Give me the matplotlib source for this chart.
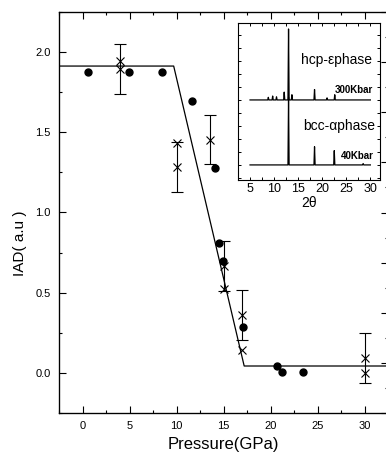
import matplotlib
matplotlib.use("Agg")
import matplotlib.pyplot as plt
from matplotlib.ticker import MultipleLocator, FormatStrFormatter

plt.rcParams['font.family'] = ['Liberation Sans', 'DejaVu Sans']

# IAD vs pressure: filled circles
dot_p = [0.6, 4.9, 8.5, 11.7, 14.1, 14.5, 14.9, 17.1, 20.7, 21.2, 23.5]
dot_iad = [1.876, 1.876, 1.876, 1.696, 1.28, 0.81, 0.70, 0.285, 0.043, 0.005, 0.005]

# crosses with error bars
err_p = [4.0, 10.1, 13.6, 15.0, 17.0, 30.0]
err_iad = [1.895, 1.285, 1.455, 0.665, 0.36, 0.095]
err_half = [0.155, 0.155, 0.155, 0.155, 0.155, 0.155]

# extra crosses without error bars
cross_p = [4.0, 10.1, 15.0, 17.0, 30.0]
cross_iad = [1.945, 1.435, 0.52, 0.143, 0.0]

# piecewise fit
fit_p = [-2.5, 9.7, 17.2, 32.5]
fit_iad = [1.913, 1.913, 0.043, 0.043]

# inset XRD patterns (peak position, height)
bcc_peaks = [13.0, 18.4, 22.5, 28.5]
bcc_heights = [2.6, 0.7, 0.55, 0.05]
hcp_peaks = [8.8, 9.7, 10.5, 12.1, 13.0, 13.7, 18.4, 21.0, 22.6]
hcp_heights = [0.1, 0.15, 0.12, 0.3, 2.73, 0.2, 0.4, 0.08, 0.2]
hcp_offset = 2.5


def stick_pattern(peaks, heights, base, start=5.0, end=30.0, w=0.12):
    xs, ys = [start], [base]
    for p, h in zip(peaks, heights):
        xs += [p - w, p, p + w]
        ys += [base, base + h, base]
    xs.append(end)
    ys.append(base)
    return xs, ys


fig = plt.figure(figsize=(3.86, 4.57), dpi=100)
ax = fig.add_axes([59 / 386, 44 / 457, 329 / 386, 401 / 457])

ax.plot(fit_p, fit_iad, color='black', lw=0.9)
ax.errorbar(err_p, err_iad, yerr=err_half, fmt='x', color='black', ms=6, mew=0.8,
            capsize=4.5, elinewidth=0.8, capthick=0.8)
ax.plot(cross_p, cross_iad, 'x', color='black', ms=6, mew=0.8)
ax.plot(dot_p, dot_iad, 'o', color='black', ms=5)

ax.set_xlim(-2.5, 32.5)
ax.set_ylim(-0.25, 2.25)
ax.xaxis.set_major_locator(MultipleLocator(5))
ax.xaxis.set_minor_locator(MultipleLocator(2.5))
ax.yaxis.set_major_locator(MultipleLocator(0.5))
ax.yaxis.set_minor_locator(MultipleLocator(0.25))
ax.yaxis.set_major_formatter(FormatStrFormatter('%.1f'))
ax.tick_params(which='both', direction='in', top=True, right=False, labelsize=8, width=0.8)
ax.tick_params(which='major', length=5, pad=6)
ax.tick_params(which='minor', length=2.5)
for s in ax.spines.values():
    s.set_linewidth(0.9)

ax.set_xlabel('Pressure(GPa)', fontsize=12, labelpad=4)
fig.text(20 / 386, 1 - 243 / 457, 'IAD( a.u )', rotation=90, ha='center', va='center', fontsize=11)

# right axis ticks (scale of the cropped right axis)
ax2 = ax.twinx()
ax2.set_ylim(0, 8)
ax2.yaxis.set_major_locator(MultipleLocator(1))
ax2.yaxis.set_minor_locator(MultipleLocator(0.5))
ax2.tick_params(which='both', direction='in', labelright=False, width=0.8)
ax2.tick_params(which='major', length=5)
ax2.tick_params(which='minor', length=2.5)

# inset
ins = fig.add_axes([238 / 386, (457 - 180) / 457, 142 / 386, 157 / 457])
ins.set_zorder(5)
bx, by = stick_pattern(bcc_peaks, bcc_heights, 0.0)
hx, hy = stick_pattern(hcp_peaks, hcp_heights, hcp_offset)
ins.plot(bx, by, color='black', lw=0.9)
ins.plot(hx, hy, color='black', lw=0.9)
ins.set_xlim(2.5, 32)
ins.set_ylim(-0.58, 5.46)
ins.xaxis.set_major_locator(MultipleLocator(5))
ins.xaxis.set_minor_locator(MultipleLocator(2.5))
ins.yaxis.set_major_locator(MultipleLocator(0.5))
ins.tick_params(which='both', direction='in', top=True, right=True, length=2.5,
                width=0.7, labelsize=9, labelleft=False, pad=2)
ins.set_xlabel('2θ', fontsize=10, labelpad=1)
ins.text(22.95, 4.04, 'hcp-εphase', fontsize=10, ha='center', va='center')
ins.text(23.6, 1.5, 'bcc-αphase', fontsize=10, ha='center', va='center')
ins.text(30.6, 2.88, '300Kbar', fontsize=7, fontweight='bold', ha='right', va='center')
ins.text(30.6, 0.35, '40Kbar', fontsize=7, fontweight='bold', ha='right', va='center')
for s in ins.spines.values():
    s.set_linewidth(0.8)

fig.savefig('out.png', dpi=100)
